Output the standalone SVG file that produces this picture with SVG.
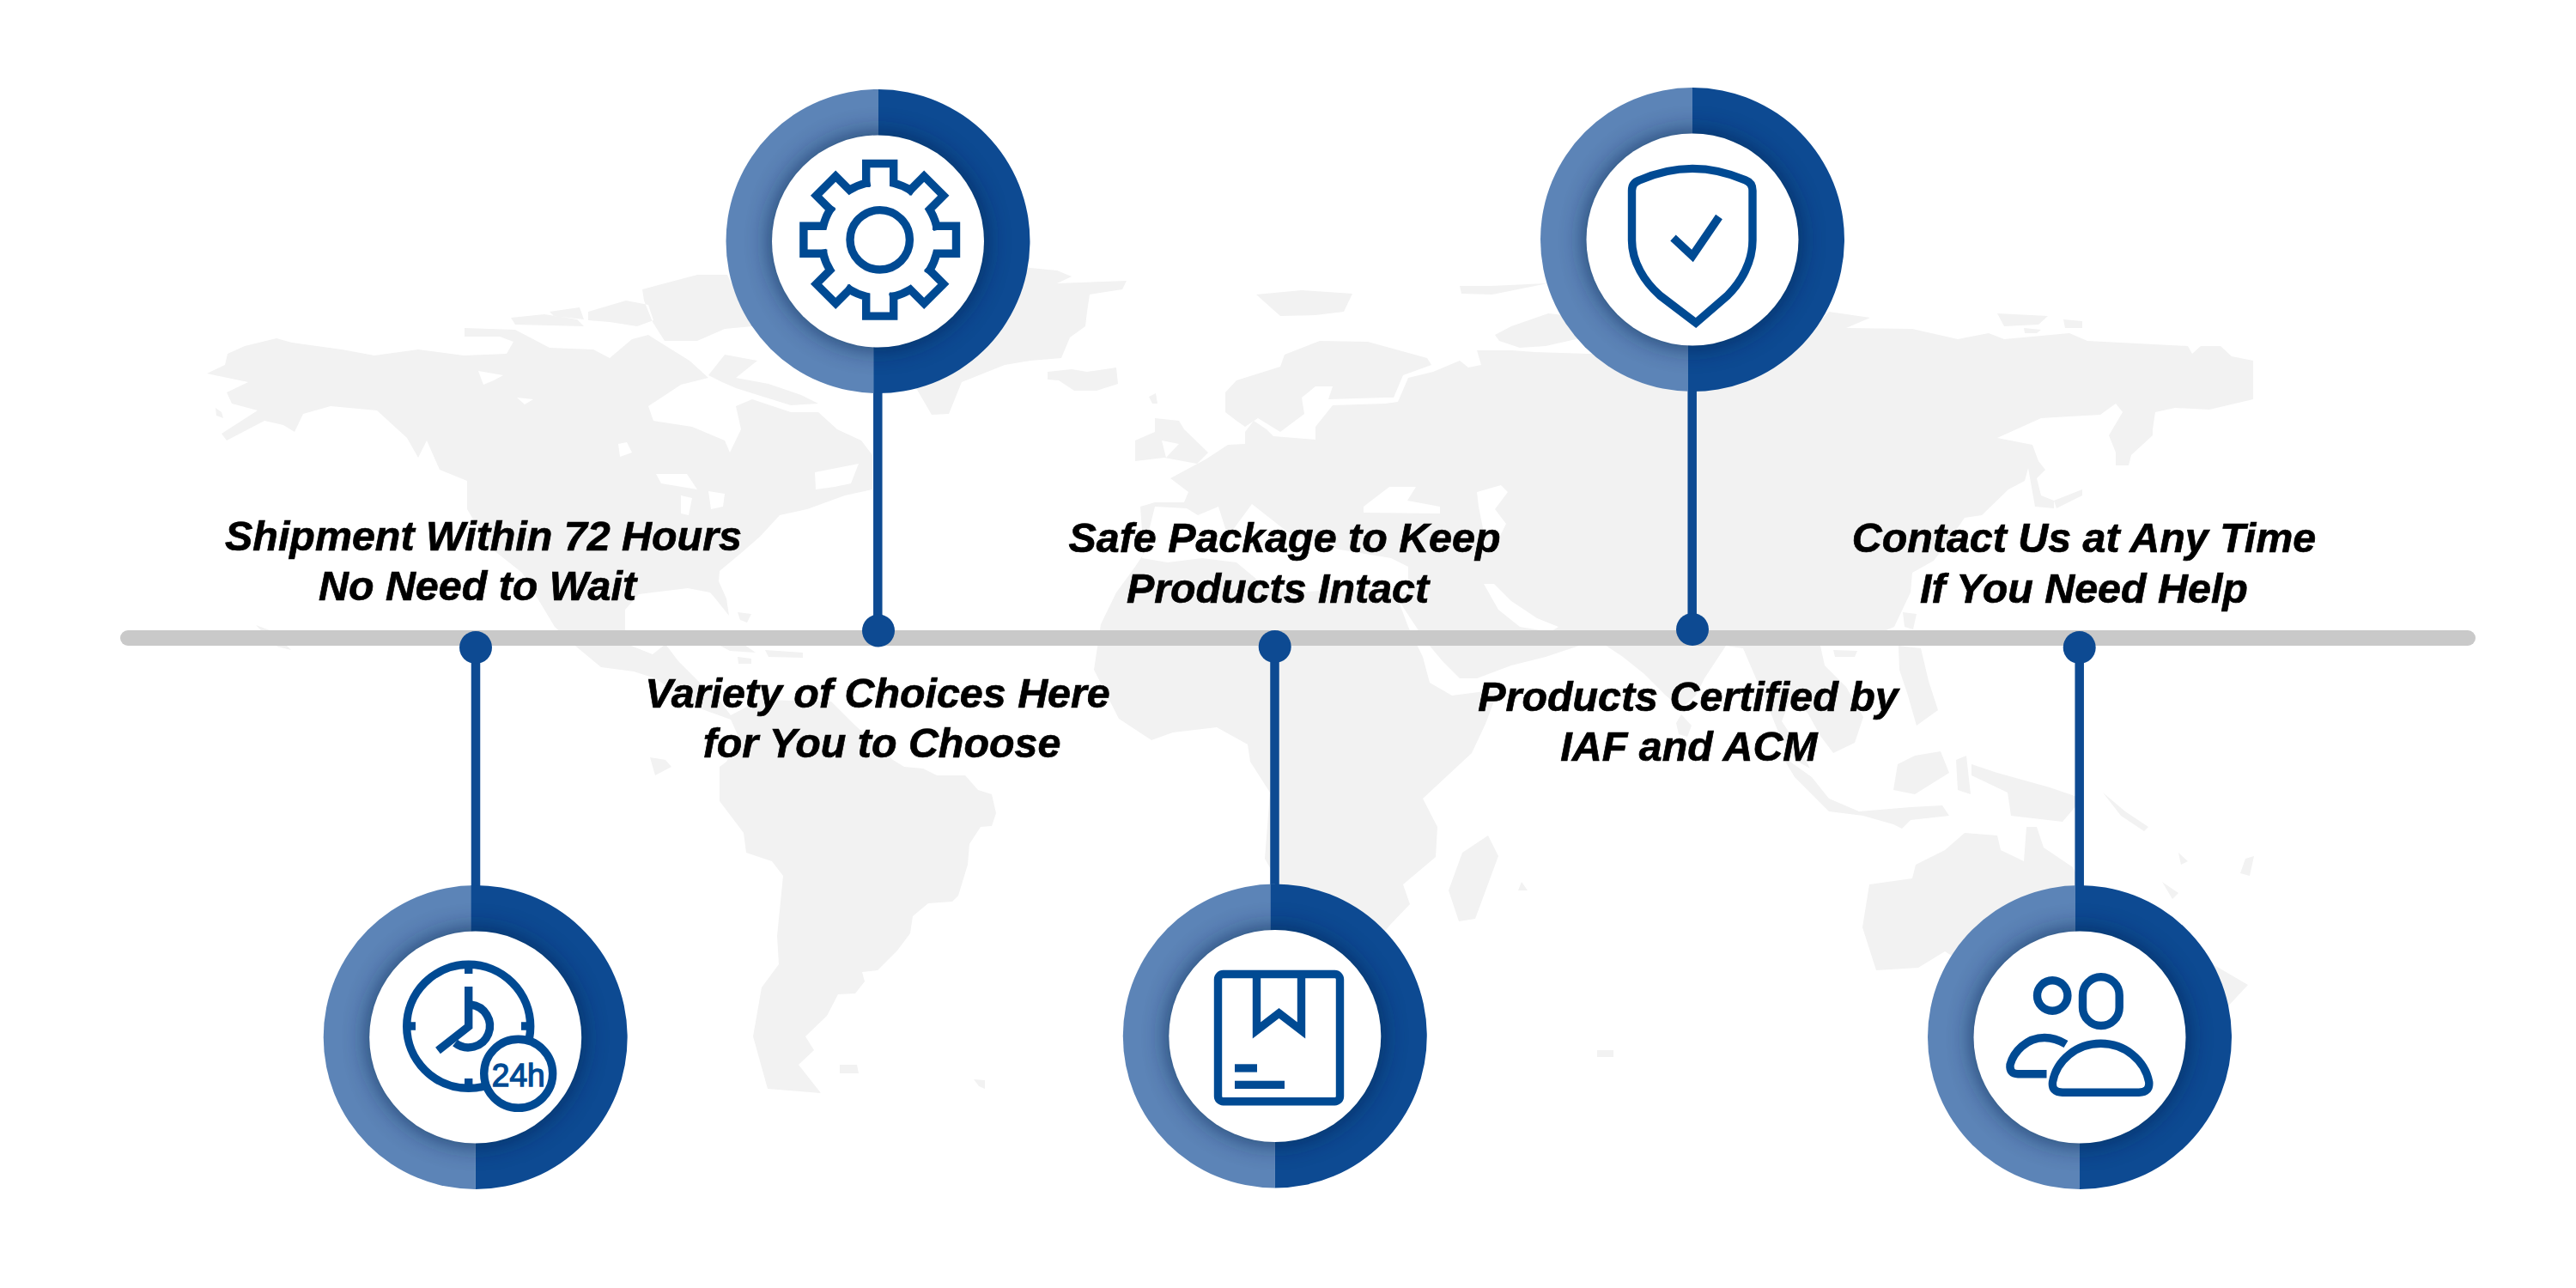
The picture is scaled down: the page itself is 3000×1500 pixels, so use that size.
<svg xmlns="http://www.w3.org/2000/svg" xmlns:xlink="http://www.w3.org/1999/xlink" width="3000" height="1500" viewBox="0 0 3000 1500">
<style>
.land{fill:#f2f2f2;fill-rule:evenodd;stroke:none}
.light{fill:#5c84b7}
.dark{fill:#0d4a92}
.inner{fill:#fff}
.shade{fill:#04234d;opacity:.75}
.conn{stroke:#0d4a92;stroke-width:10.5;fill:none}
.dot{fill:#0d4a92}
.ic{fill:none;stroke:#004a93;stroke-width:9.4;stroke-linejoin:miter}
.icf{fill:#004a93}
.lbl{font-family:"Liberation Sans",Arial,sans-serif;font-weight:700;font-style:italic;font-size:48.4px;fill:#000;stroke:#000;stroke-width:.7;text-anchor:middle}
</style>
<defs>
<filter id="blur" x="-30%" y="-30%" width="160%" height="160%"><feGaussianBlur stdDeviation="15"/></filter>
<g id="ringBelow">
<path class="light" d="M0,-177A177,177 0 0 0 0,177Z"/>
<path class="dark" d="M-5,-176.93A177,177 0 1 1 0,177L0,0L-5,0Z"/>
<circle class="shade" r="123.5" filter="url(#blur)"/>
<circle class="inner" r="123.5"/>
</g>
<g id="ringAbove">
<path class="light" d="M0,-177A177,177 0 0 0 0,177Z"/>
<path class="dark" d="M0,-177A177,177 0 1 1 -5,176.93L-5,0L0,0Z"/>
<circle class="shade" r="123.5" filter="url(#blur)"/>
<circle class="inner" r="123.5"/>
</g>
<path id="tooth" class="ic" stroke-linecap="square" d="M-16,-66L-16,-88.8L16,-88.8L16,-66A67.9,67.9 0 0 1 35.36,-58"/>
</defs>
<rect width="3000" height="1500" fill="#fff"/>
<g id="world-map">
<path class="land" d="M241,435L262,425L265,412L285,403L322,394L340,399L398,407L436,414L487,407L540,414L590,412L598,398L582,392L541,392L541,382L600,384L640,405L691,407L710,417L736,395L755,390L803,420L825,440L793,448L755,473L761,490L806,497L844,513L850,527L863,500L857,473L876,465L921,480L953,480L975,500L1003,513L1016,530L1016,570L984,577L940,593L908,600L885,625L862,645L838,665L837,677L846,697L849,717L833,697L827,690L801,685L744,692L728,710L728,733L735,752L760,762L775,750L790,770L815,795L835,812L851,833L885,815L968,817L994,843L1040,885L1053,893L1075,895L1091,903L1124,903L1139,920L1155,925L1160,947L1155,962L1142,963L1129,983L1127,1007L1116,1043L1109,1050L1081,1052L1063,1067L1060,1087L1045,1107L1022,1130L1004,1132L1007,1143L996,1157L976,1158L963,1183L938,1207L948,1223L930,1240L956,1273L894,1268L877,1207L887,1150L907,1123L905,1090L912,1020L899,1003L869,993L866,970L838,933L838,893L846,887L861,860L851,838L815,825L763,790L738,782L700,777L671,753L646,730L640,720L608,667L570,637L544,593L544,560L512,547L497,513L487,533L474,510L439,478L385,473L353,482L343,503L330,495L308,490L264,513L258,505L300,478L270,470L264,457L289,445Z
M949,550L1000,540L991,563L972,567L950,570Z
M764,552L800,552L812,570L800,568L770,563Z
M793,577L806,580L802,600L793,598Z
M825,572L844,575L842,590L828,593Z
M720,517L730,515L736,527L722,532Z
M557,432L586,437L575,443L563,448Z
M602,463L621,465L611,471Z"/>
<path class="land" d="M251,475L258,480L260,487L252,484Z
M595,370L634,366L672,372L680,380L600,378Z
M640,363L675,358L680,372L645,368Z
M685,363L729,350L755,355L761,373L742,380L710,375L685,373Z
M748,337L812,320L847,320L876,380L844,383L812,397L774,397L760,375L750,350Z
M825,437L844,413L882,420L857,440L895,447L933,460L953,470L921,472L876,458L857,452L841,445Z
M298,728L317,735L339,757L323,753Z
M859,713L875,715L870,725L862,722Z
M820,742L860,746L880,760L850,758Z
M891,757L935,760L935,766L895,765Z
M859,765L875,767L875,773L860,773Z
M757,882L775,885L782,893L763,903Z
M978,1240L998,1240L1000,1250L978,1250Z
M1134,1257L1147,1258L1147,1268L1140,1265Z"/>
<path class="land" d="M1130,300L1200,312L1231,315L1248,322L1231,330L1312,327L1307,337L1269,343L1266,363L1264,380L1246,393L1236,417L1200,420L1170,425L1120,445L1105,482L1085,483L1060,440L1040,400L1050,330Z
M1220,433L1248,430L1266,433L1300,428L1302,447L1277,455L1251,455L1233,443L1220,442Z
M1463,343L1516,338L1575,342L1565,363L1532,367L1491,368Z
M1338,462L1346,458L1348,470L1342,470Z
M1427,457L1440,443L1491,427L1496,413L1537,397L1593,398L1662,417L1667,425L1634,437L1623,463L1613,463L1547,465L1552,450L1532,450L1516,463L1519,482L1491,503L1465,487L1450,497L1440,490L1427,480Z
M1700,333L1736,333L1802,330L1738,343L1702,342Z
M1741,390L1760,380L1803,365L1850,370L1880,385L1800,403L1770,405L1746,397Z
M2326,365L2385,368L2374,378L2334,380Z
M2403,372L2425,374L2425,382L2405,382Z
M2357,382L2377,384L2372,388L2358,388Z"/>
<path class="land" d="M1345,487L1373,490L1379,500L1407,527L1394,540L1356,533L1322,537L1322,513L1345,503Z
M1353,513L1373,517L1358,533Z"/>
<path class="land" d="M1274,780L1282,727L1300,690L1322,660L1332,645L1328,590L1345,585L1379,585L1384,573L1363,557L1404,535L1430,518L1450,517L1450,503L1460,490L1475,500L1483,508L1532,512L1532,497L1552,472L1613,470L1628,468L1640,440L1669,433L1700,420L1710,428L1725,425L1720,408L1761,408L1787,410L1850,412L2000,400L2100,395L2130,363L2178,370L2150,382L2227,383L2280,395L2316,388L2334,395L2410,388L2431,397L2548,403L2553,412L2563,403L2586,403L2599,415L2624,420L2624,465L2573,477L2533,475L2510,480L2507,500L2507,507L2482,530L2479,542L2464,542L2464,527L2456,507L2472,480L2464,470L2446,483L2410,485L2377,487L2326,510L2367,518L2374,537L2382,547L2372,557L2377,577L2392,583L2392,592L2370,590L2362,545L2358,560L2339,570L2308,600L2288,603L2267,633L2252,653L2227,667L2225,690L2206,730L2170,745L2120,752L2125,775L2150,800L2170,835L2160,865L2135,877L2120,857L2105,830L2085,815L2075,840L2095,870L2108,895L2090,885L2070,850L2060,825L2045,790L2030,755L2010,752L1985,790L1975,810L1958,825L1940,810L1915,785L1890,765L1860,745L1800,765L1760,775L1720,790L1700,790L1680,770L1659,745L1634,707L1625,690L1640,730L1657,765L1665,795L1691,810L1745,803L1730,843L1714,877L1657,930L1674,963L1672,998L1634,1030L1642,1053L1619,1077L1600,1100L1520,1100L1490,1030L1473,1000L1479,923L1456,887L1453,867L1417,847L1366,853L1341,862L1303,837Z
M1330,650L1345,590L1382,592L1395,600L1419,590L1430,625L1458,587L1500,620L1530,630L1560,640L1620,650L1640,660L1640,690L1580,685L1510,690L1470,680L1440,655L1400,650L1360,655Z
M1618,567L1649,567L1639,583L1677,590L1677,598L1588,597L1588,590Z
M1720,573L1748,565L1756,573L1741,593L1754,610L1745,628L1728,620L1722,590Z
M1728,680L1740,680L1760,700L1790,720L1815,730L1805,736L1770,730L1745,710Z"/>
<path class="land" d="M1733,973L1745,997L1718,1070L1699,1073L1687,1037L1703,993Z
M1958,832L1970,845L1965,858L1955,855L1952,842Z
M2135,757L2163,758L2160,765L2137,765Z
M2216,713L2232,715L2228,733L2218,730Z
M2211,752L2237,755L2246,793L2257,827L2232,845L2222,810L2212,780Z
M2392,583L2425,570L2425,577L2395,592Z
M2075,880L2110,905L2130,930L2165,945L2225,940L2262,938L2270,950L2225,955L2215,965L2205,960L2170,950L2130,945L2110,925L2090,905Z
M2210,890L2230,880L2260,875L2270,900L2230,925L2205,920Z
M2278,885L2290,880L2295,925L2280,920Z
M2296,890L2326,900L2387,917L2425,930L2402,957L2342,950L2338,923L2296,903Z
M2449,923L2475,945L2502,963L2497,968L2470,950Z
M2288,970L2326,973L2330,990L2357,1003L2360,963L2372,963L2380,987L2414,1010L2440,1060L2440,1120L2300,1130L2265,1108L2234,1127L2185,1130L2169,1080L2177,1030L2227,1023L2231,1007L2265,990Z
M2577,1123L2618,1147L2590,1177L2578,1165Z
M2537,993L2548,1003L2540,1007Z
M2518,1027L2537,1040L2530,1047Z
M2609,1017L2615,1000L2625,997L2620,1020Z
M1768,1037L1772,1027L1779,1037Z
M1860,1223L1879,1223L1879,1231L1860,1231Z"/>
</g>
<rect id="timeline" x="140" y="734" width="2743" height="18" rx="9" fill="#c9c9c9"/>
<g id="connectors">
<path class="conn" d="M554,754V1035"/>
<path class="conn" d="M1022.3,734V455"/>
<path class="conn" d="M1484.5,753V1035"/>
<path class="conn" d="M1970.7,733V455"/>
<path class="conn" d="M2421.7,754V1035"/>
</g>
<g id="dots">
<circle class="dot" cx="554" cy="754" r="19"/>
<circle class="dot" cx="1023" cy="734.5" r="19"/>
<circle class="dot" cx="1484.7" cy="753" r="19"/>
<circle class="dot" cx="1971" cy="733" r="19"/>
<circle class="dot" cx="2421.7" cy="754" r="19"/>
</g>
<g id="node-clock">
<use href="#ringBelow" x="553.7" y="1208"/>
<circle class="ic" cx="545.7" cy="1195.3" r="72"/>
<path class="ic" d="M545.7,1123V1134M545.7,1256V1267M473.5,1195H484M607,1195H617.5"/>
<path class="ic" d="M545.7,1149V1195.5L510,1223.5"/>
<path class="ic" d="M548,1170A25,25 0 1 1 530,1214.5"/>
<circle class="ic" style="fill:#fff" cx="603.7" cy="1250.3" r="40"/>
<text x="603.7" y="1265" text-anchor="middle" font-family="'Liberation Sans',Arial,sans-serif" font-size="37" fill="#004a93" stroke="#004a93" stroke-width="1.4">24h</text>
</g>
<g id="node-gear">
<use href="#ringAbove" x="1022.5" y="281"/>
<g transform="translate(1024.7,279.3)">
<use href="#tooth"/>
<use href="#tooth" transform="rotate(45)"/>
<use href="#tooth" transform="rotate(90)"/>
<use href="#tooth" transform="rotate(135)"/>
<use href="#tooth" transform="rotate(180)"/>
<use href="#tooth" transform="rotate(225)"/>
<use href="#tooth" transform="rotate(270)"/>
<use href="#tooth" transform="rotate(315)"/>
<circle class="ic" r="34.7"/>
</g>
</g>
<g id="node-box">
<use href="#ringBelow" x="1484.8" y="1206.5"/>
<rect class="ic" x="1418.5" y="1134.5" width="142" height="148.3" rx="6"/>
<path class="ic" d="M1463.5,1134.5V1200L1489.5,1180L1515.5,1200V1134.5"/>
<rect class="icf" x="1438" y="1239.3" width="26" height="9.3"/>
<rect class="icf" x="1438" y="1258.7" width="58" height="9.3"/>
</g>
<g id="node-shield">
<use href="#ringAbove" x="1971" y="279"/>
<path class="ic" d="M1900.5,222Q1900.5,213 1909,210C1950,192 1992,192 2033,210Q2041,213 2041,222L2041,280C2041,305 2028,328 2012,344L1975,376L1933,344C1915,328 1900.5,305 1900.5,280Z"/>
<path class="ic" d="M1948.5,277L1971,298L2002,252.5"/>
</g>
<g id="node-people">
<use href="#ringBelow" x="2422" y="1208"/>
<circle class="ic" cx="2390.2" cy="1159.5" r="17.7"/>
<rect class="ic" x="2425.5" y="1137.8" width="42.7" height="56.7" rx="21.3"/>
<path class="ic" d="M2402,1272.3H2491Q2504,1272 2502.7,1260C2498,1235 2475,1215.3 2446.5,1215.3C2418,1215.3 2395,1235 2390.5,1260Q2389,1272 2402,1272.3Z"/>
<path class="ic" d="M2406,1216C2396,1210 2388,1208.5 2381,1208.5C2360,1208.5 2345,1225 2341,1240Q2340,1250.7 2350,1250.7H2383.5"/>
</g>
<g id="labels">
<text class="lbl" x="563" y="641">Shipment Within 72 Hours</text>
<text class="lbl" x="556" y="699">No Need to Wait</text>
<text class="lbl" x="1022" y="824">Variety of Choices Here</text>
<text class="lbl" x="1027" y="882">for You to Choose</text>
<text class="lbl" x="1496" y="643">Safe Package to Keep</text>
<text class="lbl" x="1488" y="701.5">Products Intact</text>
<text class="lbl" x="1966" y="828">Products Certified by</text>
<text class="lbl" x="1967" y="886">IAF and ACM</text>
<text class="lbl" x="2427" y="643">Contact Us at Any Time</text>
<text class="lbl" x="2427" y="701.5">If You Need Help</text>
</g>
</svg>
